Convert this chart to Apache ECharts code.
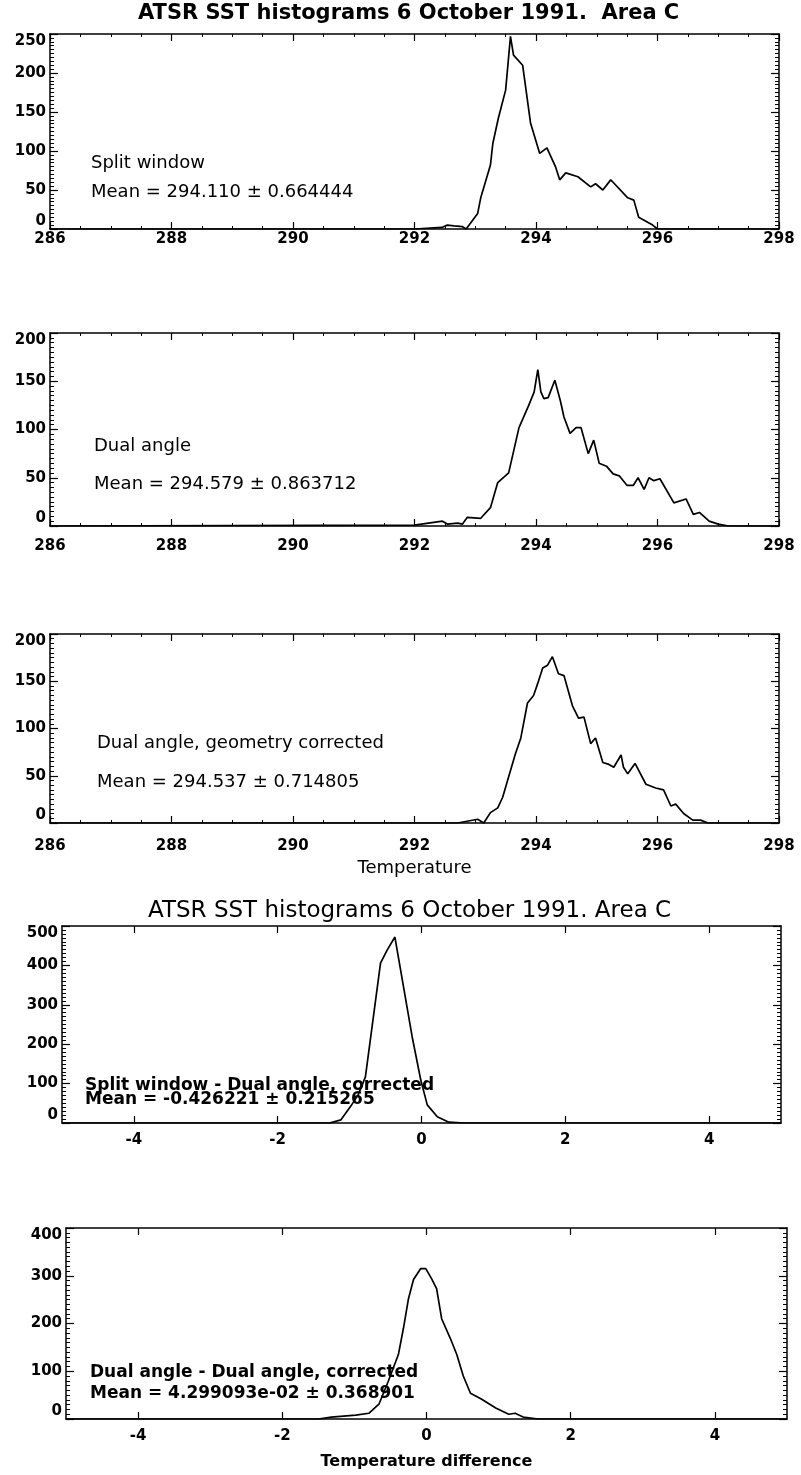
<!DOCTYPE html>
<html>
<head>
<meta charset="utf-8">
<title>ATSR SST histograms 6 October 1991</title>
<script src="https://cdn.jsdelivr.net/npm/echarts@6/dist/echarts.min.js"></script>
<style>
  html, body { margin: 0; padding: 0; background: #fff; }
  #chart { width: 801px; height: 1475px; }
</style>
</head>
<body>
<div id="chart"></div>
<script>
// values
const splitT = [286.0, 292.0, 292.45, 292.54, 292.65, 292.79, 292.85, 293.04, 293.09, 293.25, 293.29, 293.38, 293.50, 293.58, 293.63, 293.78, 293.91, 294.06, 294.18, 294.32, 294.39, 294.49, 294.69, 294.90, 294.98, 295.10, 295.23, 295.28, 295.51, 295.61, 295.69, 295.92, 296.0, 298.0];
const splitN = [0, 0, 2, 5, 4, 3, 0, 20, 40, 82, 110, 142, 178, 247, 223, 210, 136, 97, 104, 80, 63, 72, 67, 54, 58, 50, 63, 59, 40, 37, 15, 5, 0, 0];

const dualT = [286.0, 292.0, 292.46, 292.54, 292.71, 292.79, 292.87, 293.09, 293.25, 293.37, 293.55, 293.72, 293.88, 293.97, 294.03, 294.08, 294.13, 294.20, 294.31, 294.40, 294.46, 294.56, 294.66, 294.74, 294.86, 294.95, 295.04, 295.16, 295.27, 295.37, 295.50, 295.60, 295.68, 295.78, 295.86, 295.94, 296.04, 296.27, 296.47, 296.59, 296.69, 296.85, 297.00, 297.17, 298.0];
const dualN = [0, 1, 5, 2, 3, 2, 9, 8, 19, 45, 55, 102, 125, 139, 162, 139, 132, 133, 151, 130, 113, 96, 102, 102, 75, 89, 65, 62, 54, 52, 42, 42, 50, 38, 50, 47, 49, 24, 28, 12, 14, 5, 2, 0, 0];

const corrT = [286.0, 292.71, 293.04, 293.14, 293.25, 293.37, 293.45, 293.66, 293.75, 293.86, 293.96, 294.03, 294.11, 294.19, 294.27, 294.37, 294.46, 294.60, 294.70, 294.79, 294.90, 294.98, 295.10, 295.20, 295.28, 295.40, 295.44, 295.51, 295.63, 295.81, 295.97, 296.10, 296.22, 296.30, 296.43, 296.58, 296.71, 296.83, 298.0];
const corrN = [0, 0, 4, 0, 11, 16, 27, 73, 90, 127, 135, 148, 164, 167, 176, 158, 156, 124, 111, 112, 84, 90, 64, 62, 59, 72, 59, 52, 63, 41, 37, 35, 18, 20, 10, 3, 3, 0, 0];

const swDiff = [-5, -1.28, -1.12, -0.99, -0.88, -0.78, -0.57, -0.48, -0.37, -0.13, -0.01, 0.08, 0.22, 0.38, 0.6, 5];
const swN = [0, 0, 8, 41, 72, 117, 406, 438, 472, 219, 109, 46, 16, 2, 0, 0];

const daDiff = [-5, -1.5, -1.32, -0.98, -0.80, -0.66, -0.53, -0.39, -0.32, -0.25, -0.18, -0.08, -0.01, 0.07, 0.14, 0.21, 0.33, 0.42, 0.51, 0.61, 0.76, 0.96, 1.14, 1.23, 1.34, 1.55, 5];
const daN = [0, 0, 4, 8, 12, 31, 79, 135, 190, 252, 292, 315, 315, 294, 273, 210, 169, 135, 90, 54, 42, 23, 10, 12, 4, 0, 0];

const diffTicks = [-4, -2, 0, 2, 4];

const FONT = '"DejaVu Sans", sans-serif';

function pairs(xs, ys) {
  return xs.map((x, i) => [x, ys[i]]);
}

var myChart = echarts.init(document.getElementById('chart'));

// panel boxes, top to bottom
var grids = [
  { left: 50, right: 22, top: 34, height: 195 },
  { left: 50, right: 22, top: 333, height: 193 },
  { left: 50, right: 22, top: 634, height: 189 },
  { left: 62, right: 20, top: 926, height: 197 },
  { left: 66, right: 14, top: 1228, height: 191 }
];
grids.forEach(function (g) { g.outerBoundsMode = 'none'; g.containLabel = false; });

var lineStyle = { color: '#000', width: 1.5 };

function xAxes(gi, range, name) {
  var isDiff = range.custom;
  var common = {
    gridIndex: gi,
    type: 'value',
    min: range.min,
    max: range.max,
    splitLine: { show: false },
    axisLine: { show: true, onZero: false, lineStyle: lineStyle },
    axisTick: { show: true, inside: true, length: 7, lineStyle: { color: '#000', width: 1.2 } },
    minorTick: { show: !isDiff, splitNumber: 4, length: 3, lineStyle: { color: '#000', width: 1 } }
  };
  if (isDiff) {
    common.axisTick.customValues = range.custom;
  } else {
    common.interval = range.interval;
  }
  var bottom = echarts.util.merge({
    position: 'bottom',
    axisLabel: {
      show: true, color: '#000', fontFamily: FONT, fontWeight: 'bold', fontSize: 15,
      margin: range.margin, showMinLabel: true, showMaxLabel: true
    }
  }, common, true);
  if (isDiff) bottom.axisLabel.customValues = range.custom;
  if (name) {
    bottom.name = name;
    bottom.nameLocation = 'middle';
    bottom.nameGap = range.nameGap;
    bottom.nameTextStyle = { color: '#000', fontFamily: FONT, fontSize: range.nameSize, fontWeight: range.nameWeight };
  }
  var top = echarts.util.merge({
    position: 'top',
    axisLabel: { show: false }
  }, echarts.util.clone(common), true);
  return [bottom, top];
}

function yAxes(gi, max, interval) {
  var common = {
    gridIndex: gi,
    type: 'value',
    min: 0,
    max: max,
    interval: interval,
    splitLine: { show: false },
    axisLine: { show: true, onZero: false, lineStyle: lineStyle },
    axisTick: { show: true, inside: true, length: 8, lineStyle: { color: '#000', width: 1.2 } },
    minorTick: { show: true, splitNumber: 10, length: 4, lineStyle: { color: '#000', width: 1 } }
  };
  var left = echarts.util.merge({
    position: 'left',
    axisLabel: {
      show: true, color: '#000', fontFamily: FONT, fontWeight: 'bold', fontSize: 15, margin: 4,
      showMinLabel: true, showMaxLabel: true,
      verticalAlignMinLabel: 'bottom', verticalAlignMaxLabel: 'top'
    }
  }, common, true);
  var right = echarts.util.merge({
    position: 'right',
    axisLabel: { show: false }
  }, echarts.util.clone(common), true);
  return [left, right];
}

var sstRange = { min: 286, max: 298, interval: 2, margin: 3 };
var diffRange = { min: -5, max: 5, custom: diffTicks, margin: 10 };

var xAxis = [].concat(
  xAxes(0, sstRange),
  xAxes(1, echarts.util.merge({ margin: 13 }, sstRange)),
  xAxes(2, echarts.util.merge({ margin: 16, nameGap: 36, nameSize: 18, nameWeight: 'normal' }, sstRange), 'Temperature'),
  xAxes(3, diffRange),
  xAxes(4, echarts.util.merge({ nameGap: 35, nameSize: 16, nameWeight: 'bold' }, diffRange), 'Temperature difference')
);

var yAxis = [].concat(
  yAxes(0, 250, 50),
  yAxes(1, 200, 50),
  yAxes(2, 200, 50),
  yAxes(3, 500, 100),
  yAxes(4, 400, 100)
);

function histSeries(idx, data) {
  return {
    type: 'line',
    xAxisIndex: idx * 2,
    yAxisIndex: idx * 2,
    data: data,
    showSymbol: false,
    silent: true,
    lineStyle: { color: '#000', width: 1.7 },
    z: 3
  };
}

function label(text, left, top, size, weight) {
  return {
    text: text,
    left: left,
    top: top,
    padding: 0,
    textStyle: { color: '#000', fontFamily: FONT, fontSize: size, fontWeight: weight }
  };
}

var option = {
  backgroundColor: '#fff',
  animation: false,
  title: [
    label('ATSR SST histograms 6 October 1991.  Area C', 138, 3, 21, 'bold'),
    label('Split window', 91, 154, 18, 'normal'),
    label('Mean = 294.110 \u00b1 0.664444', 91, 183, 18, 'normal'),
    label('Dual angle', 94, 437, 18, 'normal'),
    label('Mean = 294.579 \u00b1 0.863712', 94, 475, 18, 'normal'),
    label('Dual angle, geometry corrected', 97, 734, 18, 'normal'),
    label('Mean = 294.537 \u00b1 0.714805', 97, 773, 18, 'normal'),
    label('ATSR SST histograms 6 October 1991. Area C', 148, 900, 23, 'normal'),
    label('Split window - Dual angle, corrected', 85, 1077, 17, 'bold'),
    label('Mean = -0.426221 \u00b1 0.215265', 85, 1091, 17, 'bold'),
    label('Dual angle - Dual angle, corrected', 90, 1364, 17, 'bold'),
    label('Mean = 4.299093e-02 \u00b1 0.368901', 90, 1385, 17, 'bold')
  ],
  grid: grids,
  xAxis: xAxis,
  yAxis: yAxis,
  series: [
    histSeries(0, pairs(splitT, splitN)),
    histSeries(1, pairs(dualT, dualN)),
    histSeries(2, pairs(corrT, corrN)),
    histSeries(3, pairs(swDiff, swN)),
    histSeries(4, pairs(daDiff, daN))
  ]
};

myChart.setOption(option);
</script>
</body>
</html>
